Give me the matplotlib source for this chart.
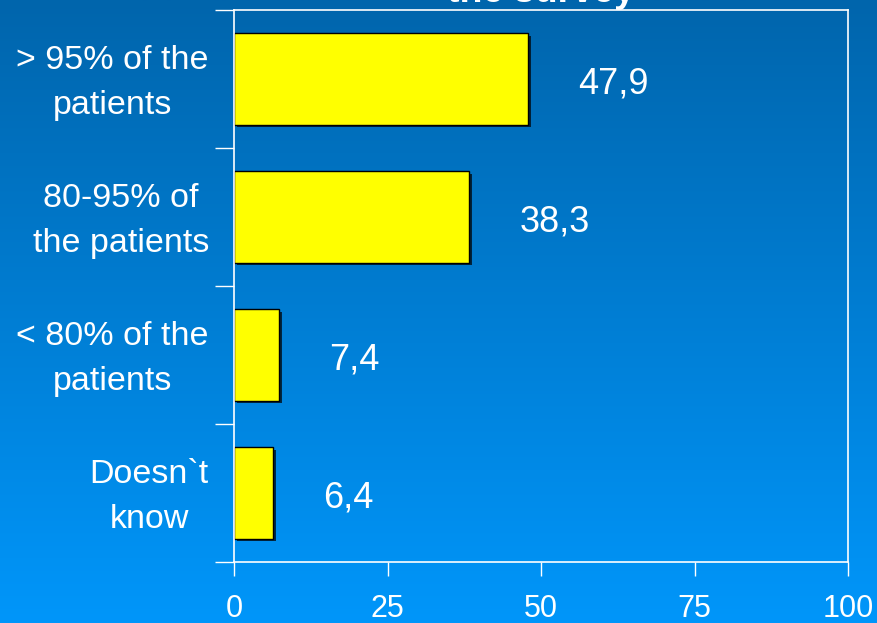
import numpy as np
import matplotlib
matplotlib.use("Agg")
import matplotlib.pyplot as plt
import matplotlib.patheffects as pe

# Chart data
categories = ["> 95% of the\npatients", "80-95% of\nthe patients",
              "< 80% of the\npatients", "Doesn`t\nknow"]
values = [47.9, 38.3, 7.4, 6.4]
value_labels = ["47,9", "38,3", "7,4", "6,4"]
x_ticks = [0, 25, 50, 75, 100]

plt.rcParams["font.family"] = ["Liberation Sans", "DejaVu Sans"]

fig = plt.figure(figsize=(8.77, 6.23), dpi=100)

# blue gradient background
bg = fig.add_axes([0, 0, 1, 1], zorder=-10)
top = np.array([0, 101, 172]) / 255
bottom = np.array([0, 150, 250]) / 255
t = np.linspace(0, 1, 256)[:, None]
grad = top[None, :] * (1 - t) + bottom[None, :] * t
bg.imshow(grad[:, None, :], aspect="auto", extent=[0, 1, 0, 1])
bg.axis("off")

ax = fig.add_axes([234 / 877, 1 - 562 / 623, (848 - 234) / 877, (562 - 10) / 623])
ax.patch.set_alpha(0)

pos = np.arange(len(categories))
bars = ax.barh(pos, values, height=0.66, color="#FFFF00", edgecolor="black", linewidth=1)
for b in bars:
    b.set_path_effects([pe.SimplePatchShadow(offset=(2, -2), shadow_rgbFace="black", alpha=0.7),
                        pe.Normal()])

for y, v, lab in zip(pos, values, value_labels):
    ax.annotate(lab, (v, y), xytext=(50, -5), textcoords="offset pixels",
                ha="left", va="center", color="white", fontsize=26)

# category labels as text, right aligned next to the axis
for y, cat in zip(pos, categories):
    ax.annotate(cat, (0, y), xycoords=ax.get_yaxis_transform(), xytext=(-25, -4),
                textcoords="offset pixels", ha="right", va="center",
                multialignment="center", linespacing=1.55, color="white",
                fontsize=24.5, annotation_clip=False)

ax.set_xlim(0, 100)
ax.set_ylim(len(categories) - 0.5, -0.5)
ax.set_xticks(x_ticks)
ax.set_xticklabels([str(x) for x in x_ticks])
ax.set_yticks(np.arange(len(categories) + 1) - 0.5)
ax.set_yticklabels([])

ax.tick_params(axis="y", length=14, width=1, color="white", direction="out")
ax.tick_params(axis="x", length=10, width=1, color="white", direction="out",
               pad=13, labelsize=22, labelcolor="white")
for s in ax.spines.values():
    s.set_color("white")
    s.set_linewidth(1.2)

# slide title, mostly cut off at the top edge
fig.text(541 / 877, 1 - 1.5 / 623, "Results of\nthe survey", ha="center", va="baseline",
         color="white", fontsize=27, fontweight="bold")

fig.savefig("out.png", dpi=100)
